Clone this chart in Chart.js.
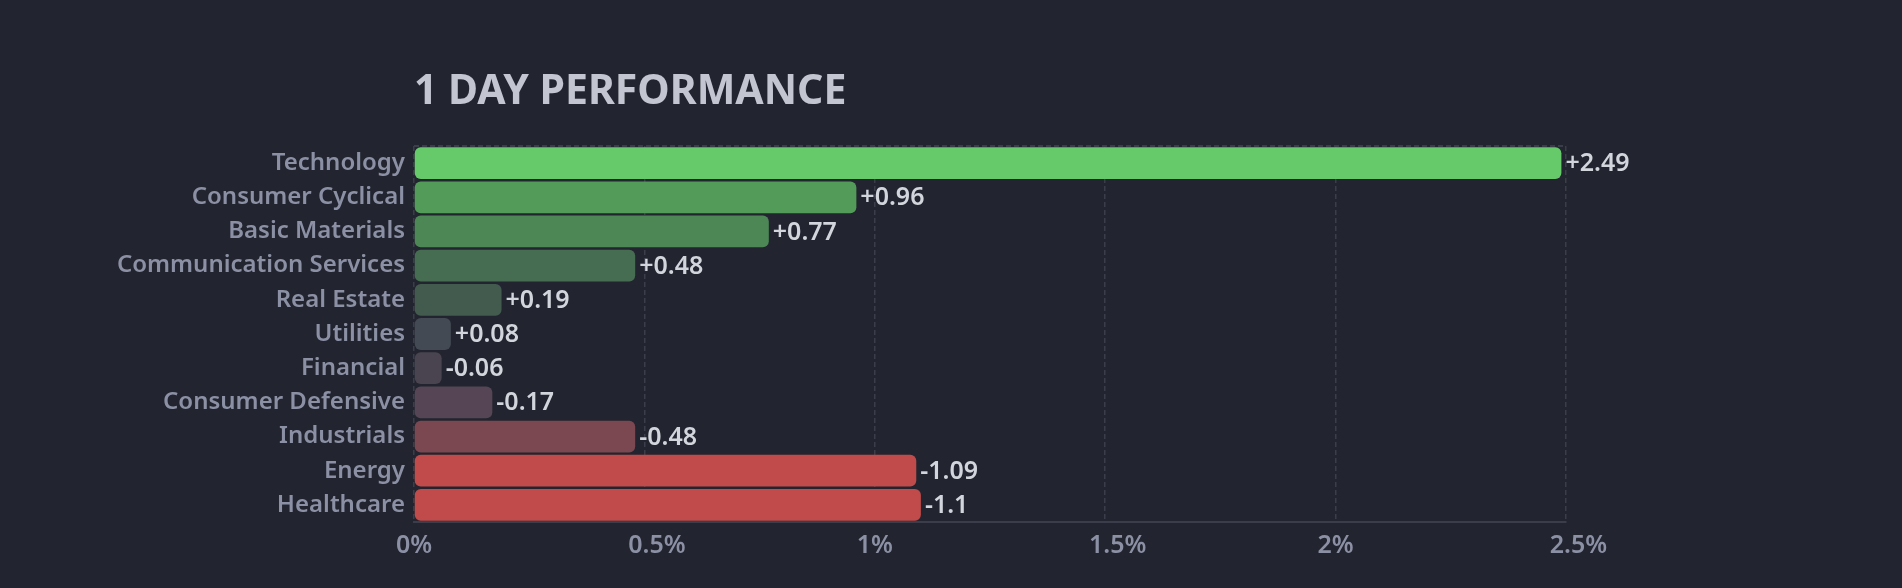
<!DOCTYPE html>
<html lang="en">
<head>
  <meta charset="UTF-8">
  <title>1 Day Performance</title>
  <script src="https://cdn.jsdelivr.net/npm/chart.js"></script>
  <style>
    html, body {
      margin: 0;
      padding: 0;
      background-color: #22252f;
    }
    .chart-wrap {
      position: relative;
      width: 1902px;
      height: 588px;
    }
  </style>
</head>
<body>
  <div class="chart-wrap">
    <canvas id="perfChart"></canvas>
  </div>
  <script>
    const sectors = ["Technology", "Consumer Cyclical", "Basic Materials", "Communication Services",
      "Real Estate", "Utilities", "Financial", "Consumer Defensive", "Industrials", "Energy", "Healthcare"];
    const changes = [2.49, 0.96, 0.77, 0.48, 0.19, 0.08, -0.06, -0.17, -0.48, -1.09, -1.1];
    const xTicks = [0, 0.5, 1, 1.5, 2, 2.5];

    const barColors = ['#66c96a', '#529b58', '#4d8756', '#466d51', '#435a4f', '#434a53',
      '#4a4350', '#554555', '#7b4851', '#c04b4a', '#c04b4a'];
    const gridColor = '#3b3e4a';
    const labelFont = '"Noto Sans", sans-serif';

    // value text after each bar, plus the heading over the plot
    const extras = {
      id: 'extras',
      afterDatasetsDraw(chart) {
        const ctx = chart.ctx;
        const area = chart.chartArea;
        ctx.save();
        ctx.font = '600 25px ' + labelFont;
        ctx.fillStyle = '#d3d5dd';
        ctx.textAlign = 'left';
        ctx.textBaseline = 'middle';
        chart.getDatasetMeta(0).data.forEach((bar, i) => {
          const v = changes[i];
          ctx.fillText((v > 0 ? '+' : '') + v, bar.x + 4, bar.y + 1);
        });
        ctx.font = '700 41px ' + labelFont;
        ctx.fillStyle = '#c3c6d0';
        ctx.textBaseline = 'alphabetic';
        ctx.fillText('1 DAY PERFORMANCE', area.left, area.top - 42);
        ctx.restore();
      }
    };

    new Chart(document.getElementById('perfChart'), {
      type: 'bar',
      data: {
        labels: sectors,
        datasets: [{
          data: changes.map(v => Math.abs(v)),
          backgroundColor: barColors,
          borderRadius: 6,
          borderSkipped: false,
          barPercentage: 0.93,
          categoryPercentage: 1
        }]
      },
      options: {
        indexAxis: 'y',
        responsive: true,
        maintainAspectRatio: false,
        animation: false,
        layout: { padding: { top: 146, right: 336, bottom: 31, left: 0 } },
        plugins: {
          legend: { display: false },
          tooltip: { enabled: false }
        },
        scales: {
          x: {
            min: 0,
            max: 2.5,
            afterBuildTicks: scale => { scale.ticks = xTicks.map(v => ({ value: v })); },
            ticks: {
              color: '#8c90a5',
              font: { family: labelFont, size: 25, weight: 600 },
              padding: 9,
              // the half-step labels sit a little right of their grid line
              callback: v => (Number.isInteger(v) ? '' : '\u2003') + v + '%'
            },
            grid: { color: gridColor, lineWidth: 1.5, drawTicks: false },
            border: { color: gridColor, width: 2, dash: [5, 3] },
            afterFit: scale => { scale.height = 35; }
          },
          y: {
            ticks: {
              color: '#8c90a5',
              font: { family: labelFont, size: 24, weight: 600 },
              padding: 9
            },
            grid: {
              drawTicks: false,
              lineWidth: 2,
              color: c => c.index === 0 ? gridColor : 'transparent'
            },
            border: { display: false, dash: [5, 3] },
            afterFit: scale => { scale.width = 414; }
          }
        }
      },
      plugins: [extras]
    });
  </script>
</body>
</html>
